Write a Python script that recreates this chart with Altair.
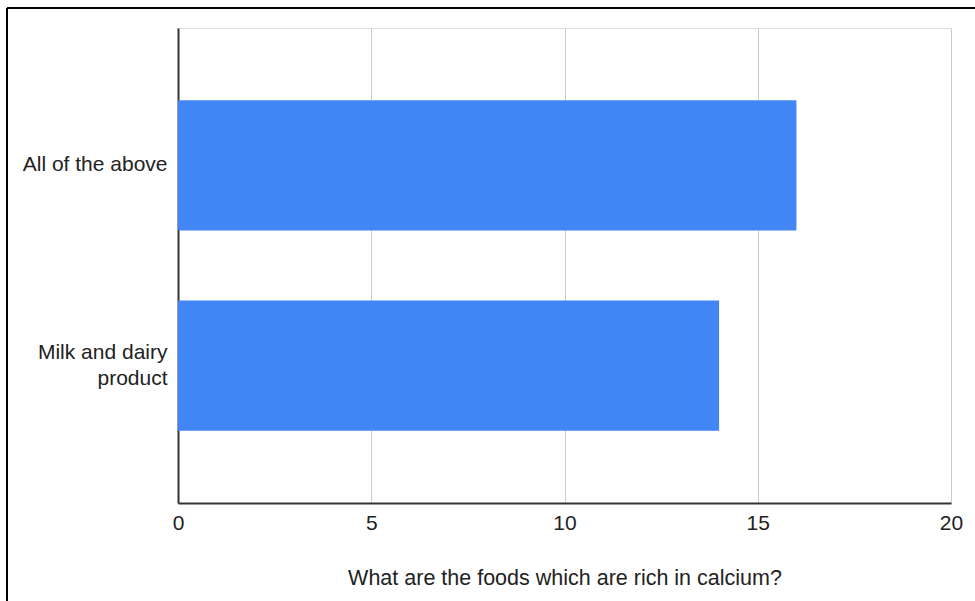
import altair as alt
import pandas as pd

categories = ["All of the above", "Milk and dairy product"]
counts = [16, 14]

df = pd.DataFrame({"answer": categories, "count": counts})

FONT = "Liberation Sans"
FS = 21

bars = alt.Chart(df).mark_bar(color="#4285F4").encode(
    x=alt.X("count:Q",
            scale=alt.Scale(domain=[0, 20]),
            axis=alt.Axis(values=[0, 5, 10, 15, 20], title="What are the foods which are rich in calcium?",
                          grid=True, gridColor="#cccccc", gridWidth=1,
                          domainColor="#333333", domainWidth=2, ticks=False, labelFlush=False,
                          labelFont=FONT, labelFontSize=FS, labelColor="#222222", labelPadding=9,
                          titleFont=FONT, titleFontSize=21.5, titleFontWeight="normal", titleColor="#222222",
                          titlePadding=34)),
    y=alt.Y("answer:N", sort=None,
            scale=alt.Scale(paddingInner=0.35, paddingOuter=0.36),
            axis=alt.Axis(title=None, ticks=False, domainColor="#333333", domainWidth=2,
                          labelFont=FONT, labelFontSize=FS, labelColor="#222222", labelPadding=11,
                          labelExpr="split(datum.value == 'Milk and dairy product' ? 'Milk and dairy|product' : datum.value, '|')",
                          labelOffset={"condition": {"test": "datum.value == 'Milk and dairy product'", "value": -13}, "value": 0},
                          labelLineHeight=26, labelLimit=200)),
)

top_border = alt.Chart(df).mark_rule(color="#000000", strokeWidth=2, clip=False).encode(
    x=alt.value(-171), x2=alt.value(800), y=alt.value(-20)
)
left_border = alt.Chart(df).mark_rule(color="#000000", strokeWidth=2, clip=False).encode(
    x=alt.value(-171), y=alt.value(-20), y2=alt.value(580)
)

chart = alt.layer(bars, top_border, left_border).properties(
    width=773, height=475,
    autosize=alt.AutoSizeParams(type="none"),
    padding={"left": 178, "top": 28, "right": 24, "bottom": 98},
).configure_view(stroke=None).configure(background="white")

chart.save("out.html", embed_options={"renderer": "svg", "actions": False})
